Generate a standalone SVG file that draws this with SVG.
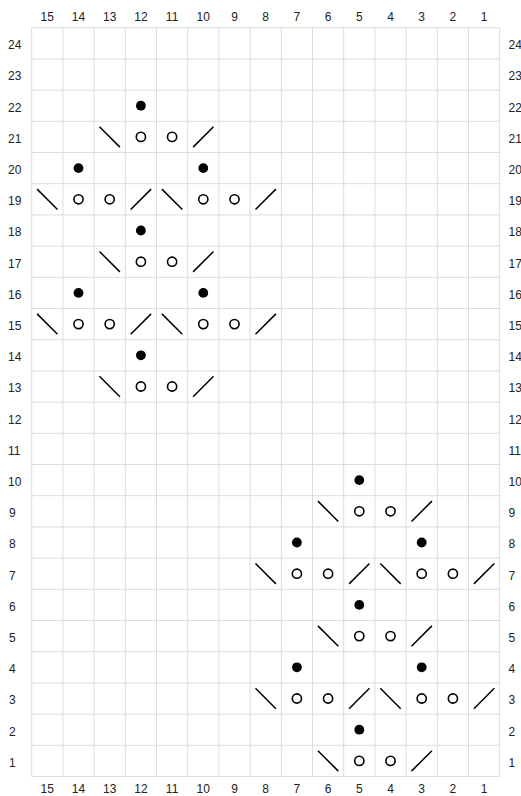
<svg xmlns="http://www.w3.org/2000/svg" xmlns:xlink="http://www.w3.org/1999/xlink" width="521" height="796" viewBox="0 0 521 796">
<style>
.grid line{stroke:#dcdcdc;stroke-width:1}
.lbl{font-family:"Liberation Sans",Arial,sans-serif;font-size:12px;fill:#222}
.c{text-anchor:middle}
.sym{stroke:#000;stroke-width:1.5;fill:none;stroke-linecap:butt}
</style>
<defs>
<circle id="dot" r="4.9" fill="#000"/>
<circle id="ring" r="4.6" fill="none" stroke="#000" stroke-width="1.6"/>
<line id="bs" x1="-10.2" y1="-10.2" x2="10.2" y2="10.2" class="sym"/>
<line id="fs" x1="-10.2" y1="10.2" x2="10.2" y2="-10.2" class="sym"/>
</defs>
<rect width="521" height="796" fill="#fff"/>
<g id="grid" class="grid">
<line x1="31.7" y1="27.7" x2="31.7" y2="776.5"/>
<line x1="62.9" y1="27.7" x2="62.9" y2="776.5"/>
<line x1="94.1" y1="27.7" x2="94.1" y2="776.5"/>
<line x1="125.3" y1="27.7" x2="125.3" y2="776.5"/>
<line x1="156.5" y1="27.7" x2="156.5" y2="776.5"/>
<line x1="187.7" y1="27.7" x2="187.7" y2="776.5"/>
<line x1="218.9" y1="27.7" x2="218.9" y2="776.5"/>
<line x1="250.1" y1="27.7" x2="250.1" y2="776.5"/>
<line x1="281.3" y1="27.7" x2="281.3" y2="776.5"/>
<line x1="312.5" y1="27.7" x2="312.5" y2="776.5"/>
<line x1="343.7" y1="27.7" x2="343.7" y2="776.5"/>
<line x1="374.9" y1="27.7" x2="374.9" y2="776.5"/>
<line x1="406.1" y1="27.7" x2="406.1" y2="776.5"/>
<line x1="437.3" y1="27.7" x2="437.3" y2="776.5"/>
<line x1="468.5" y1="27.7" x2="468.5" y2="776.5"/>
<line x1="499.7" y1="27.7" x2="499.7" y2="776.5"/>
<line x1="31.7" y1="27.7" x2="499.7" y2="27.7"/>
<line x1="31.7" y1="58.9" x2="499.7" y2="58.9"/>
<line x1="31.7" y1="90.1" x2="499.7" y2="90.1"/>
<line x1="31.7" y1="121.3" x2="499.7" y2="121.3"/>
<line x1="31.7" y1="152.5" x2="499.7" y2="152.5"/>
<line x1="31.7" y1="183.7" x2="499.7" y2="183.7"/>
<line x1="31.7" y1="214.9" x2="499.7" y2="214.9"/>
<line x1="31.7" y1="246.1" x2="499.7" y2="246.1"/>
<line x1="31.7" y1="277.3" x2="499.7" y2="277.3"/>
<line x1="31.7" y1="308.5" x2="499.7" y2="308.5"/>
<line x1="31.7" y1="339.7" x2="499.7" y2="339.7"/>
<line x1="31.7" y1="370.9" x2="499.7" y2="370.9"/>
<line x1="31.7" y1="402.1" x2="499.7" y2="402.1"/>
<line x1="31.7" y1="433.3" x2="499.7" y2="433.3"/>
<line x1="31.7" y1="464.5" x2="499.7" y2="464.5"/>
<line x1="31.7" y1="495.7" x2="499.7" y2="495.7"/>
<line x1="31.7" y1="526.9" x2="499.7" y2="526.9"/>
<line x1="31.7" y1="558.1" x2="499.7" y2="558.1"/>
<line x1="31.7" y1="589.3" x2="499.7" y2="589.3"/>
<line x1="31.7" y1="620.5" x2="499.7" y2="620.5"/>
<line x1="31.7" y1="651.7" x2="499.7" y2="651.7"/>
<line x1="31.7" y1="682.9" x2="499.7" y2="682.9"/>
<line x1="31.7" y1="714.1" x2="499.7" y2="714.1"/>
<line x1="31.7" y1="745.3" x2="499.7" y2="745.3"/>
<line x1="31.7" y1="776.5" x2="499.7" y2="776.5"/>
</g>
<g id="col-labels-top" class="lbl c">
<text x="47.3" y="21">15</text><text x="78.5" y="21">14</text><text x="109.7" y="21">13</text><text x="140.9" y="21">12</text><text x="172.1" y="21">11</text><text x="203.3" y="21">10</text><text x="234.5" y="21">9</text><text x="265.7" y="21">8</text><text x="296.9" y="21">7</text><text x="328.1" y="21">6</text><text x="359.3" y="21">5</text><text x="390.5" y="21">4</text><text x="421.7" y="21">3</text><text x="452.9" y="21">2</text><text x="484.1" y="21">1</text>
</g>
<g id="col-labels-bottom" class="lbl c">
<text x="47.3" y="792.5">15</text><text x="78.5" y="792.5">14</text><text x="109.7" y="792.5">13</text><text x="140.9" y="792.5">12</text><text x="172.1" y="792.5">11</text><text x="203.3" y="792.5">10</text><text x="234.5" y="792.5">9</text><text x="265.7" y="792.5">8</text><text x="296.9" y="792.5">7</text><text x="328.1" y="792.5">6</text><text x="359.3" y="792.5">5</text><text x="390.5" y="792.5">4</text><text x="421.7" y="792.5">3</text><text x="452.9" y="792.5">2</text><text x="484.1" y="792.5">1</text>
</g>
<g id="row-labels-left" class="lbl">
<text x="8" y="49.2">24</text><text x="8" y="80.4">23</text><text x="8" y="111.6">22</text><text x="8" y="142.8">21</text><text x="8" y="174">20</text><text x="8" y="205.2">19</text><text x="8" y="236.4">18</text><text x="8" y="267.6">17</text><text x="8" y="298.8">16</text><text x="8" y="330">15</text><text x="8" y="361.2">14</text><text x="8" y="392.4">13</text><text x="8" y="423.6">12</text><text x="8" y="454.8">11</text><text x="8" y="486">10</text><text x="9" y="517.2">9</text><text x="9" y="548.4">8</text><text x="9" y="579.6">7</text><text x="9" y="610.8">6</text><text x="9" y="642">5</text><text x="9" y="673.2">4</text><text x="9" y="704.4">3</text><text x="9" y="735.6">2</text><text x="9" y="766.8">1</text>
</g>
<g id="row-labels-right" class="lbl">
<text x="508.5" y="49.2">24</text><text x="508.5" y="80.4">23</text><text x="508.5" y="111.6">22</text><text x="508.5" y="142.8">21</text><text x="508.5" y="174">20</text><text x="508.5" y="205.2">19</text><text x="508.5" y="236.4">18</text><text x="508.5" y="267.6">17</text><text x="508.5" y="298.8">16</text><text x="508.5" y="330">15</text><text x="508.5" y="361.2">14</text><text x="508.5" y="392.4">13</text><text x="508.5" y="423.6">12</text><text x="508.5" y="454.8">11</text><text x="508.5" y="486">10</text><text x="508.5" y="517.2">9</text><text x="508.5" y="548.4">8</text><text x="508.5" y="579.6">7</text><text x="508.5" y="610.8">6</text><text x="508.5" y="642">5</text><text x="508.5" y="673.2">4</text><text x="508.5" y="704.4">3</text><text x="508.5" y="735.6">2</text><text x="508.5" y="766.8">1</text>
</g>
<g id="motif-upper">
<use xlink:href="#dot" x="140.9" y="105.7"/>
<use xlink:href="#bs" x="109.7" y="136.9"/><use xlink:href="#ring" x="140.9" y="136.9"/><use xlink:href="#ring" x="172.1" y="136.9"/><use xlink:href="#fs" x="203.3" y="136.9"/>
<use xlink:href="#dot" x="78.5" y="168.1"/><use xlink:href="#dot" x="203.3" y="168.1"/>
<use xlink:href="#bs" x="47.3" y="199.3"/><use xlink:href="#ring" x="78.5" y="199.3"/><use xlink:href="#ring" x="109.7" y="199.3"/><use xlink:href="#fs" x="140.9" y="199.3"/><use xlink:href="#bs" x="172.1" y="199.3"/><use xlink:href="#ring" x="203.3" y="199.3"/><use xlink:href="#ring" x="234.5" y="199.3"/><use xlink:href="#fs" x="265.7" y="199.3"/>
<use xlink:href="#dot" x="140.9" y="230.5"/>
<use xlink:href="#bs" x="109.7" y="261.7"/><use xlink:href="#ring" x="140.9" y="261.7"/><use xlink:href="#ring" x="172.1" y="261.7"/><use xlink:href="#fs" x="203.3" y="261.7"/>
<use xlink:href="#dot" x="78.5" y="292.9"/><use xlink:href="#dot" x="203.3" y="292.9"/>
<use xlink:href="#bs" x="47.3" y="324.1"/><use xlink:href="#ring" x="78.5" y="324.1"/><use xlink:href="#ring" x="109.7" y="324.1"/><use xlink:href="#fs" x="140.9" y="324.1"/><use xlink:href="#bs" x="172.1" y="324.1"/><use xlink:href="#ring" x="203.3" y="324.1"/><use xlink:href="#ring" x="234.5" y="324.1"/><use xlink:href="#fs" x="265.7" y="324.1"/>
<use xlink:href="#dot" x="140.9" y="355.3"/>
<use xlink:href="#bs" x="109.7" y="386.5"/><use xlink:href="#ring" x="140.9" y="386.5"/><use xlink:href="#ring" x="172.1" y="386.5"/><use xlink:href="#fs" x="203.3" y="386.5"/>
</g>
<g id="motif-lower">
<use xlink:href="#dot" x="359.3" y="480.1"/>
<use xlink:href="#bs" x="328.1" y="511.3"/><use xlink:href="#ring" x="359.3" y="511.3"/><use xlink:href="#ring" x="390.5" y="511.3"/><use xlink:href="#fs" x="421.7" y="511.3"/>
<use xlink:href="#dot" x="296.9" y="542.5"/><use xlink:href="#dot" x="421.7" y="542.5"/>
<use xlink:href="#bs" x="265.7" y="573.7"/><use xlink:href="#ring" x="296.9" y="573.7"/><use xlink:href="#ring" x="328.1" y="573.7"/><use xlink:href="#fs" x="359.3" y="573.7"/><use xlink:href="#bs" x="390.5" y="573.7"/><use xlink:href="#ring" x="421.7" y="573.7"/><use xlink:href="#ring" x="452.9" y="573.7"/><use xlink:href="#fs" x="484.1" y="573.7"/>
<use xlink:href="#dot" x="359.3" y="604.9"/>
<use xlink:href="#bs" x="328.1" y="636.1"/><use xlink:href="#ring" x="359.3" y="636.1"/><use xlink:href="#ring" x="390.5" y="636.1"/><use xlink:href="#fs" x="421.7" y="636.1"/>
<use xlink:href="#dot" x="296.9" y="667.3"/><use xlink:href="#dot" x="421.7" y="667.3"/>
<use xlink:href="#bs" x="265.7" y="698.5"/><use xlink:href="#ring" x="296.9" y="698.5"/><use xlink:href="#ring" x="328.1" y="698.5"/><use xlink:href="#fs" x="359.3" y="698.5"/><use xlink:href="#bs" x="390.5" y="698.5"/><use xlink:href="#ring" x="421.7" y="698.5"/><use xlink:href="#ring" x="452.9" y="698.5"/><use xlink:href="#fs" x="484.1" y="698.5"/>
<use xlink:href="#dot" x="359.3" y="729.7"/>
<use xlink:href="#bs" x="328.1" y="760.9"/><use xlink:href="#ring" x="359.3" y="760.9"/><use xlink:href="#ring" x="390.5" y="760.9"/><use xlink:href="#fs" x="421.7" y="760.9"/>
</g>
<g id="connectors"/>
</svg>
